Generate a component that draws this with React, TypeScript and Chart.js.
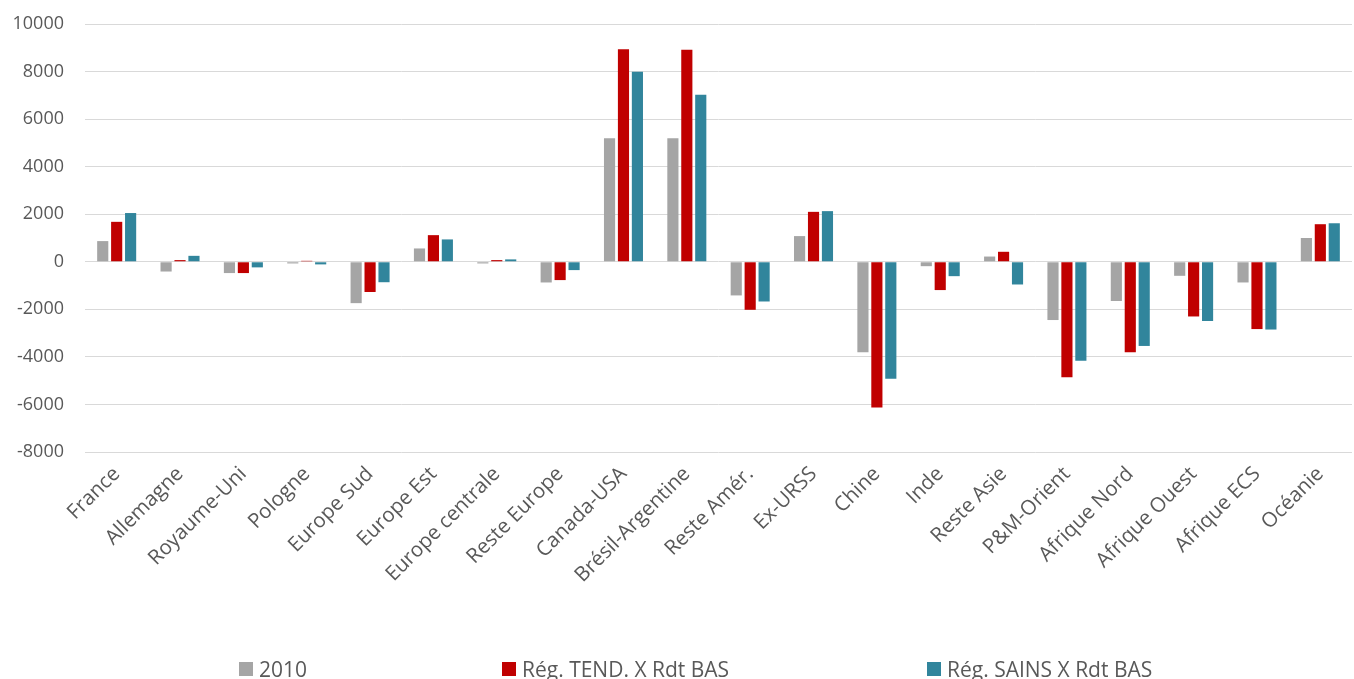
import React, { useEffect, useRef } from "react";
import { Chart, registerables } from "chart.js";

Chart.register(...registerables);

const categories = [
  "France", "Allemagne", "Royaume-Uni", "Pologne", "Europe Sud", "Europe Est",
  "Europe centrale", "Reste Europe", "Canada-USA", "Brésil-Argentine", "Reste Amér.",
  "Ex-URSS", "Chine", "Inde", "Reste Asie", "P&M-Orient", "Afrique Nord",
  "Afrique Ouest", "Afrique ECS", "Océanie",
];

const series2010 = [870, -410, -475, -70, -1740, 560, -70, -870, 5195, 5195, -1415, 1080, -3810, -185, 220, -2450, -1650, -590, -870, 1000];
const seriesTend = [1680, 70, -475, 40, -1270, 1120, 70, -770, 8935, 8915, -2020, 2100, -6130, -1190, 420, -4860, -3810, -2300, -2830, 1580];
const seriesSains = [2050, 250, -235, -110, -860, 940, 100, -350, 7990, 7020, -1670, 2130, -4915, -605, -955, -4160, -3540, -2490, -2850, 1620];

const seriesNames = ["2010", "Rég. TEND. X Rdt BAS", "Rég. SAINS X Rdt BAS"];
const seriesColors = ["#A5A5A5", "#C00000", "#31859C"];

const yMin = -8000;
const yMax = 10000;
const yStep = 2000;

const FONT = "'Open Sans', 'Liberation Sans', sans-serif";
const TEXT_COLOR = "#595959";

export default function App() {
  const canvasRef = useRef<HTMLCanvasElement | null>(null);

  useEffect(() => {
    const canvas = canvasRef.current;
    if (!canvas) return;
    const chart = new Chart(canvas, {
      type: "bar",
      data: {
        labels: categories,
        datasets: [series2010, seriesTend, seriesSains].map((d, i) => ({
          label: seriesNames[i],
          data: d,
          backgroundColor: seriesColors[i],
          borderWidth: 0,
          categoryPercentage: 0.66,
          barPercentage: 0.8,
        })),
      },
      options: {
        animation: false,
        responsive: false,
        maintainAspectRatio: false,
        layout: { padding: { top: 24, right: 2, left: 0, bottom: 0 } },
        plugins: {
          legend: { display: false },
          tooltip: { enabled: false },
        },
        scales: {
          x: {
            grid: { display: false, drawTicks: false },
            border: { display: false },
            ticks: {
              color: TEXT_COLOR,
              font: { family: FONT, size: 20.5 },
              minRotation: 45,
              maxRotation: 45,
              autoSkip: false,
              padding: 10,
            },
            afterFit: (scale: any) => {
              scale.height = 227;
            },
          },
          y: {
            min: yMin,
            max: yMax,
            grid: { color: "#D9D9D9", lineWidth: 1, drawTicks: false },
            border: { display: false },
            ticks: {
              stepSize: yStep,
              color: TEXT_COLOR,
              font: { family: FONT, size: 18 },
              padding: 21,
              callback: (v: any) => String(v),
            },
            afterFit: (scale: any) => {
              scale.width = 85;
              scale.paddingTop = 10;
              scale.paddingBottom = 10;
            },
          },
        },
      },
    });
    return () => chart.destroy();
  }, []);

  const legendLefts = [239, 502, 927];

  return (
    <div style={{ position: "fixed", left: 0, top: 0, width: 1354, height: 679, background: "#fff" }}>
      <canvas ref={canvasRef} width={1354} height={679} style={{ display: "block" }} />
      {seriesNames.map((name, i) => (
        <div
          key={name}
          style={{
            position: "absolute",
            left: legendLefts[i],
            top: 655,
            height: 28,
            display: "flex",
            alignItems: "center",
            fontFamily: FONT,
            fontSize: 21,
            color: TEXT_COLOR,
            whiteSpace: "nowrap",
          }}
        >
          <span style={{ display: "inline-block", width: 14, height: 14, background: seriesColors[i], marginRight: 6 }} />
          <span>{name}</span>
        </div>
      ))}
    </div>
  );
}
